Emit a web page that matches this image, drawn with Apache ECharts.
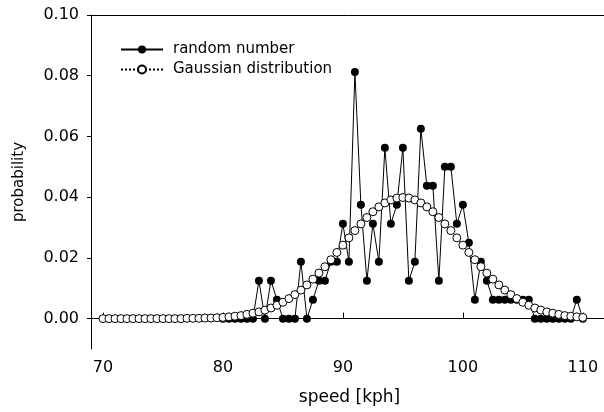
<!DOCTYPE html>
<html>
<head>
<meta charset="utf-8">
<script src="https://cdn.jsdelivr.net/npm/echarts@6/dist/echarts.min.js"></script>
<style>
html,body{margin:0;padding:0;background:#fff;overflow:hidden;}
#chart{width:604px;height:412px;}
</style>
</head>
<body>
<div id="chart"></div>
<script>
// Gaussian distribution: speeds 70..110 every 0.5 kph
const gaussSpeeds = [70,70.5,71,71.5,72,72.5,73,73.5,74,74.5,75,75.5,76,76.5,77,77.5,78,78.5,79,79.5,
  80,80.5,81,81.5,82,82.5,83,83.5,84,84.5,85,85.5,86,86.5,87,87.5,88,88.5,89,89.5,
  90,90.5,91,91.5,92,92.5,93,93.5,94,94.5,95,95.5,96,96.5,97,97.5,98,98.5,99,99.5,
  100,100.5,101,101.5,102,102.5,103,103.5,104,104.5,105,105.5,106,106.5,107,107.5,108,108.5,109,109.5,110];
const gaussValues = [0,0,0,0,0,0,0,0,0,0,0,0,0,0,
  0.0001,0.0001,0.0001,0.0002,0.0002,0.0003,
  0.0004,0.0006,0.0008,0.0010,0.0014,0.0018,0.0022,0.0028,0.0035,0.0044,
  0.0054,0.0066,0.0079,0.0094,0.0111,0.0130,0.0150,0.0171,0.0194,0.0218,
  0.0242,0.0266,0.0290,0.0312,0.0333,0.0352,0.0368,0.0381,0.0391,0.0397,
  0.0399,0.0397,0.0391,0.0381,0.0368,0.0352,0.0333,0.0312,0.0290,0.0266,
  0.0242,0.0218,0.0194,0.0171,0.0150,0.0130,0.0111,0.0094,0.0079,0.0066,
  0.0054,0.0044,0.0035,0.0028,0.0022,0.0018,0.0014,0.0010,0.0008,0.0006,0.0004];

// Random number: speeds 80..110 every 0.5 kph
const randomSpeeds = [80,80.5,81,81.5,82,82.5,83,83.5,84,84.5,85,85.5,86,86.5,87,87.5,88,88.5,89,89.5,
  90,90.5,91,91.5,92,92.5,93,93.5,94,94.5,95,95.5,96,96.5,97,97.5,98,98.5,99,99.5,
  100,100.5,101,101.5,102,102.5,103,103.5,104,104.5,105,105.5,106,106.5,107,107.5,108,108.5,109,109.5,110];
const randomValues = [0,0,0,0,0,0,0.0125,0,0.0125,0.00625,
  0,0,0,0.01875,0,0.00625,0.0125,0.0125,0.01875,0.01875,
  0.03125,0.01875,0.08125,0.0375,0.0125,0.03125,0.01875,0.05625,0.03125,0.0375,
  0.05625,0.0125,0.01875,0.0625,0.04375,0.04375,0.0125,0.05,0.05,0.03125,
  0.0375,0.025,0.00625,0.01875,0.0125,0.00625,0.00625,0.00625,0.00625,0.00625,
  0.00625,0.00625,0,0,0,0,0,0,0,0.00625,0];

const xTicks = [70,80,90,100,110];
const yTicks = [0,0.02,0.04,0.06,0.08,0.10];

const FONT = 'DejaVu Sans';
const X_MIN = 69, X_MAX = 112.1;
const chart = echarts.init(document.getElementById('chart'), null, {renderer:'canvas'});
chart.setOption({
  animation: false,
  backgroundColor: '#fff',
  grid: {left: 91, right: -4, top: 15, bottom: 63, show: false,
    outerBoundsMode: 'none', containLabel: false},
  legend: {
    orient: 'vertical', left: 120, top: 42, padding: 0, itemGap: 5, itemWidth: 42, itemHeight: 10,
    textStyle: {fontFamily: FONT, fontSize: 15, color: '#000', padding: [0,0,0,5]},
    data: ['random number', 'Gaussian distribution']
  },
  xAxis: [{
    type: 'value', min: X_MIN, max: X_MAX, position: 'bottom',
    name: 'speed [kph]', nameLocation: 'middle', nameGap: 40,
    nameTextStyle: {fontFamily: FONT, fontSize: 17, color: '#000'},
    axisLine: {show: true, lineStyle: {color: '#000', width: 1}},
    axisTick: {show: true, inside: true, length: 6, customValues: xTicks, lineStyle: {color: '#000'}},
    axisLabel: {customValues: xTicks, fontFamily: FONT, fontSize: 16, color: '#000', margin: 11},
    splitLine: {show: false}
  }, {
    type: 'value', min: X_MIN, max: X_MAX, position: 'top',
    axisLine: {show: true, onZero: false, lineStyle: {color: '#000', width: 1}},
    axisTick: {show: false}, axisLabel: {show: false}, splitLine: {show: false}
  }],
  yAxis: {
    type: 'value', min: -0.01, max: 0.10,
    name: 'probability', nameLocation: 'middle', nameGap: 64,
    nameTextStyle: {fontFamily: FONT, fontSize: 15, color: '#000'},
    axisLine: {show: true, onZero: false, lineStyle: {color: '#000', width: 1}},
    axisTick: {show: true, inside: false, length: 4, customValues: yTicks, lineStyle: {color: '#000'}},
    axisLabel: {customValues: yTicks, fontFamily: FONT, fontSize: 16, color: '#000', margin: 12,
      formatter: v => v.toFixed(2)},
    splitLine: {show: false}
  },
  series: [
    {
      name: 'random number', type: 'line',
      data: randomSpeeds.map((s, i) => [s, randomValues[i]]),
      symbol: 'circle', symbolSize: 8, showAllSymbol: true,
      itemStyle: {color: '#000', borderColor: '#000', borderWidth: 0},
      lineStyle: {color: '#000', width: 1},
      z: 2
    },
    {
      name: 'Gaussian distribution', type: 'line',
      data: gaussSpeeds.map((s, i) => [s, gaussValues[i]]),
      symbol: 'circle', symbolSize: 8, showAllSymbol: true,
      itemStyle: {color: '#fff', borderColor: '#000', borderWidth: 1},
      lineStyle: {color: '#000', width: 1, type: 'dotted'},
      z: 3
    }
  ]
});
</script>
</body>
</html>
